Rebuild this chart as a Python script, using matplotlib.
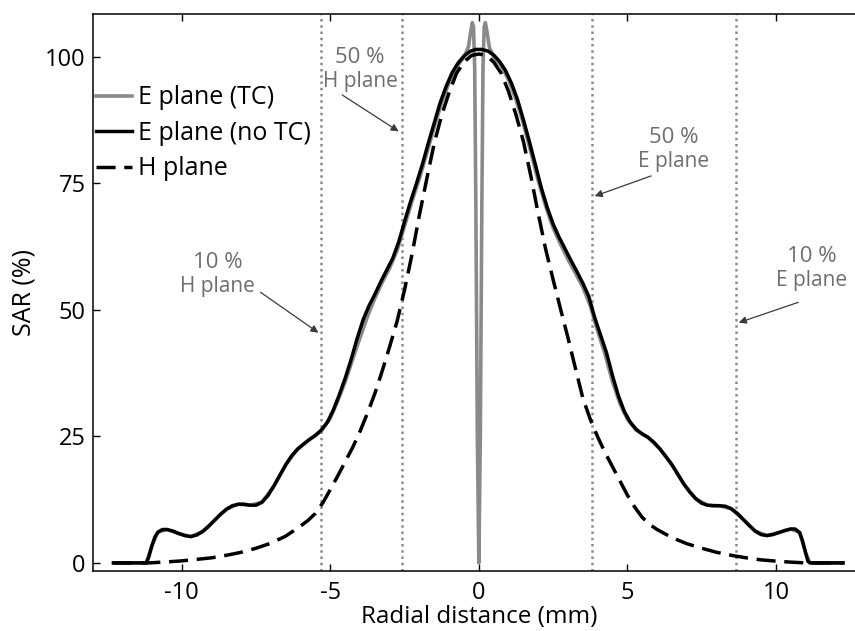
import matplotlib
matplotlib.use("Agg")
import matplotlib.pyplot as plt

plt.rcParams['font.family'] = ['Open Sans', 'DejaVu Sans']
plt.rcParams['axes.unicode_minus'] = False

# E plane, no thermal correction (black solid)
e_notc_x = [-12.3, -11.2, -11.12, -11.0, -10.9, -10.8, -10.65, -10.5, -10.3, -10.1,
            -9.9, -9.7, -9.5, -9.3, -9.1, -8.9, -8.7, -8.5, -8.3, -8.1,
            -7.9, -7.7, -7.5, -7.3, -7.1, -6.9, -6.7, -6.5, -6.3, -6.1,
            -5.9, -5.7, -5.5, -5.3, -5.1, -4.9, -4.7, -4.5, -4.3, -4.1,
            -3.9, -3.7, -3.5, -3.3, -3.1, -2.9, -2.7, -2.5, -2.3, -2.1,
            -1.9, -1.7, -1.5, -1.3, -1.1, -0.9, -0.7, -0.5, -0.3, -0.1,
            0.1, 0.3, 0.5, 0.7, 0.9, 1.1, 1.3, 1.5, 1.7, 1.9,
            2.1, 2.3, 2.5, 2.7, 2.9, 3.1, 3.3, 3.5, 3.7, 3.9,
            4.1, 4.3, 4.5, 4.7, 4.9, 5.1, 5.3, 5.5, 5.7, 5.9,
            6.1, 6.3, 6.5, 6.7, 6.9, 7.1, 7.3, 7.5, 7.7, 7.9,
            8.1, 8.3, 8.5, 8.7, 8.9, 9.1, 9.3, 9.5, 9.7, 9.9,
            10.1, 10.3, 10.5, 10.65, 10.8, 10.9, 11.0, 11.08, 11.15, 12.26]
e_notc_y = [0.0, 0.0, 1.0, 3.5, 5.2, 6.1, 6.6, 6.6, 6.3, 5.8,
            5.4, 5.2, 5.5, 6.2, 7.2, 8.4, 9.6, 10.6, 11.3, 11.6,
            11.6, 11.4, 11.4, 12.0, 13.3, 15.2, 17.3, 19.4, 21.2, 22.5,
            23.5, 24.4, 25.2, 26.3, 27.8, 30.2, 33.2, 36.5, 40.2, 44.3,
            48.0, 50.8, 53.1, 55.6, 57.9, 60.2, 63.4, 67.5, 71.4, 75.0,
            78.8, 83.0, 87.0, 91.0, 94.2, 96.9, 98.8, 100.2, 101.1, 101.5,
            101.5, 101.2, 100.4, 99.1, 97.3, 94.8, 91.6, 87.6, 83.3, 78.8,
            74.2, 70.3, 67.0, 64.4, 62.1, 59.8, 57.6, 55.3, 52.7, 48.5,
            45.0, 41.5, 37.0, 33.0, 29.9, 27.8, 26.4, 25.5, 24.8, 23.8,
            22.5, 21.0, 19.4, 17.5, 15.6, 14.0, 12.7, 11.8, 11.4, 11.3,
            11.3, 11.2, 10.7, 9.8, 8.6, 7.4, 6.3, 5.6, 5.4, 5.6,
            6.0, 6.4, 6.7, 6.7, 6.0, 4.3, 2.0, 0.3, 0.0, 0.0]

# E plane with thermal correction (grey), dips to zero at the centre
e_tc_x = [-12.3, -11.2, -11.0, -10.8, -10.5, -10.1, -9.7, -9.3, -8.9, -8.5,
          -8.1, -7.7, -7.3, -6.9, -6.5, -6.1, -5.7, -5.3, -5.0, -4.75,
          -4.5, -4.25, -4.0, -3.75, -3.5, -3.25, -3.0, -2.75, -2.5, -2.25,
          -2.0, -1.75, -1.5, -1.25, -1.0, -0.75, -0.5, -0.35, -0.28, -0.22,
          -0.18, -0.14, -0.1, -0.05, 0.0, 0.05, 0.1, 0.14, 0.18, 0.22,
          0.28, 0.35, 0.5, 0.75, 1.0, 1.25, 1.5, 1.75, 2.0, 2.25,
          2.5, 2.75, 3.0, 3.25, 3.5, 3.75, 4.0, 4.25, 4.5, 4.75,
          5.0, 5.3, 5.7, 6.1, 6.5, 6.9, 7.3, 7.7, 8.1, 8.5,
          8.9, 9.3, 9.7, 10.1, 10.5, 10.8, 11.0, 11.15, 12.26]
e_tc_y = [0.0, 0.0, 3.5, 6.1, 6.6, 5.8, 5.2, 6.2, 8.4, 10.6,
          11.6, 11.4, 12.0, 15.2, 19.4, 22.5, 24.4, 26.1, 28.6, 32.0,
          35.8, 40.2, 44.5, 48.7, 52.3, 55.5, 58.3, 61.8, 66.6, 71.5,
          76.0, 81.0, 86.2, 91.0, 95.0, 98.0, 100.0, 102.0, 104.8, 106.8,
          106.0, 98.0, 70.0, 25.0, 0.0, 25.0, 70.0, 98.0, 106.0, 106.8,
          104.8, 102.0, 100.0, 98.3, 95.5, 91.6, 86.8, 81.2, 75.5, 70.5,
          66.2, 63.0, 60.0, 57.3, 54.5, 50.8, 45.8, 41.2, 35.8, 31.5,
          28.4, 26.2, 24.8, 22.5, 19.4, 15.6, 12.7, 11.4, 11.3, 10.7,
          8.6, 6.3, 5.4, 6.0, 6.7, 6.0, 2.0, 0.0, 0.0]

# H plane (black dashed)
h_x = [-12.3, -11.1, -10.5, -10.0, -9.5, -9.0, -8.5, -8.0, -7.5, -7.0,
       -6.5, -6.0, -5.75, -5.5, -5.25, -5.0, -4.75, -4.5, -4.25, -4.0,
       -3.75, -3.5, -3.25, -3.0, -2.75, -2.5, -2.25, -2.0, -1.75, -1.5,
       -1.25, -1.0, -0.75, -0.5, -0.25, 0.0, 0.25, 0.5, 0.75, 1.0,
       1.25, 1.5, 1.75, 2.0, 2.25, 2.5, 2.75, 3.0, 3.25, 3.5,
       3.75, 4.0, 4.25, 4.5, 4.75, 5.0, 5.25, 5.5, 5.75, 6.0,
       6.5, 7.0, 7.5, 8.0, 8.5, 9.0, 9.5, 10.0, 10.5, 11.0, 12.26]
h_y = [0.0, 0.0, 0.2, 0.4, 0.7, 1.0, 1.5, 2.1, 2.9, 3.9,
       5.3, 7.3, 8.4, 9.8, 11.9, 14.5, 17.2, 20.0, 22.8, 26.0,
       29.6, 33.5, 38.0, 42.8, 47.8, 54.0, 61.0, 68.8, 76.0, 83.0,
       88.5, 93.0, 96.8, 99.0, 100.3, 100.6, 100.3, 99.0, 96.8, 93.2,
       88.6, 83.3, 76.5, 69.0, 62.0, 56.0, 50.2, 44.5, 38.5, 32.6,
       28.4, 24.9, 21.8, 19.0, 16.2, 13.4, 11.0, 9.0, 7.6, 6.6,
       5.0, 3.8, 2.9, 2.1, 1.5, 1.0, 0.6, 0.35, 0.15, 0.0, 0.0]

# 10 % and 50 % widths marked by dotted verticals
marker_x = [-5.3, -2.6, 3.8, 8.65]
marker_pct = ["10 %", "50 %", "50 %", "10 %"]
marker_plane = ["H plane", "H plane", "E plane", "E plane"]
# label centre (x, y of the % line) and arrow tail
label_pos = [(-8.8, 59.3), (-4.0, 100.0), (6.55, 84.0), (11.2, 60.5)]
arrow_tail = [(-7.35, 53.5), (-4.6, 92.5), (5.8, 76.5), (10.75, 51.5)]
arrow_head_y = [45.5, 85.3, 72.5, 47.5]

fig = plt.figure(figsize=(8.55, 6.31), dpi=100)
ax = fig.add_axes([0.1084, 0.0951, 0.9033, 0.8827])

for xv in marker_x:
    ax.axvline(xv, color='#8c8c8c', lw=1.8, ls=(0, (1, 1.5)), zorder=1)

ax.plot(e_tc_x, e_tc_y, color='#8a8a8a', lw=2.6, zorder=3, label='E plane (TC)')
ax.plot(e_notc_x, e_notc_y, color='black', lw=2.5, zorder=4, label='E plane (no TC)')
ax.plot(h_x, h_y, color='black', lw=2.5, ls=(0, (5.5, 2.5)), zorder=5, label='H plane')

for xv, pct, plane, (tx, ty), (ax0, ay0), hy in zip(marker_x, marker_pct, marker_plane,
                                                    label_pos, arrow_tail, arrow_head_y):
    ax.text(tx, ty, pct, color='#6e6e6e', fontsize=16, ha='center', va='center')
    ax.text(tx, ty - 4.75, plane, color='#6e6e6e', fontsize=15, ha='center', va='center')
    # arrow stops just short of the dotted line
    side = -0.1 if ax0 < xv else 0.1
    ax.annotate('', xy=(xv + side, hy), xytext=(ax0, ay0),
                arrowprops=dict(arrowstyle='-|>', color='#3a3a3a', lw=0.9,
                                mutation_scale=11, shrinkA=0, shrinkB=0))

ax.set_xlim(-13, 13)
ax.set_ylim(-1.6, 108.5)
ax.set_xticks([-10, -5, 0, 5, 10])
ax.set_yticks([0, 25, 50, 75, 100])
ax.tick_params(direction='in', top=True, right=True, length=5, width=1, labelsize=17)
ax.tick_params(axis='x', pad=7)
ax.tick_params(axis='y', pad=5)
for sp in ax.spines.values():
    sp.set_linewidth(1.1)

ax.set_xlabel('Radial distance (mm)', fontsize=17.5, labelpad=0)
ax.set_ylabel('SAR (%)', fontsize=18, labelpad=6)

ax.legend(loc='upper left', bbox_to_anchor=(0.004, 0.872), frameon=False,
          fontsize=18, handlelength=1.45, handletextpad=0.25, labelspacing=0.42,
          borderpad=0, borderaxespad=0)

fig.savefig('out.png', dpi=100)
